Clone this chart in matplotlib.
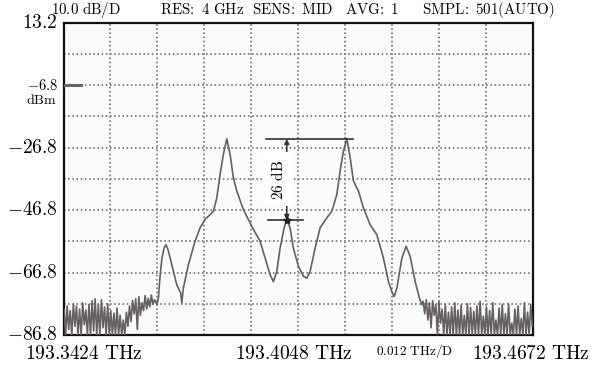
import numpy as np
import matplotlib
matplotlib.use("Agg")
import matplotlib.pyplot as plt

plt.rcParams["mathtext.fontset"] = "cm"
plt.rcParams["font.family"] = "serif"

# Display span of the analyser (THz) and level scale (dBm)
f_start, f_stop = 193.3424, 193.4672
f_center = 193.4048
ref_level = -6.8
y_top, y_bottom = 13.2, -86.8
y_labels = [13.2, -26.8, -46.8, -66.8, -86.8]

# Noise floor left of the signal band (dBm), swept samples
noise_left = [-78.5, -86.8, -77.5, -85.0, -79.0, -86.8, -76.9, -84.0, -77.5, -86.8,
              -78.5, -86.8, -76.5, -83.5, -78.8, -86.8, -77.0, -86.8, -75.8, -85.5,
              -75.2, -86.8, -77.0, -86.8, -75.5, -84.5, -77.8, -86.8, -76.8, -86.8,
              -79.0, -86.8, -79.8, -86.8, -78.2, -86.8, -80.5, -86.8, -82.0, -86.8,
              -79.5, -84.0, -77.5, -82.5, -75.8, -80.0, -75.2, -85.0, -74.5, -80.5,
              -76.5, -79.0, -74.2, -78.5, -75.0, -77.8, -74.0, -77.0, -75.5, -76.5]
noise_left_span = (193.34253, 193.36701)

# Signal band: frequency (THz) and level (dBm)
sig_freq = [193.36728, 193.36763, 193.36808, 193.36861, 193.36914, 193.36968,
            193.37021, 193.37119, 193.37252, 193.37359, 193.37385, 193.37428,
            193.37561, 193.37739, 193.37872, 193.38005, 193.38226, 193.38317,
            193.38405, 193.38492, 193.38583, 193.38671, 193.38758, 193.38849,
            193.39024, 193.39248, 193.39469, 193.39602, 193.39735, 193.39823,
            193.39913, 193.40001, 193.40108, 193.40179, 193.40267, 193.40355,
            193.40488, 193.40621, 193.40712, 193.40799, 193.40932, 193.41065,
            193.41244, 193.41377, 193.41510, 193.41598, 193.41686, 193.41776,
            193.41864, 193.41952, 193.42085, 193.42218, 193.42396, 193.42574,
            193.42750, 193.42883, 193.42973, 193.43035, 193.43107, 193.43240,
            193.43354, 193.43460, 193.43594, 193.43708, 193.43772]
sig_level = [-77.0, -75.0, -68.0, -62.0, -59.0, -57.9,
             -59.5, -64.3, -70.7, -73.4, -76.6, -71.8,
             -64.3, -56.8, -52.5, -49.8, -47.2, -42.9,
             -35.4, -29.0, -24.0, -29.0, -36.4, -40.7,
             -46.6, -52.0, -56.8, -62.2, -67.5, -69.7,
             -66.5, -59.0, -52.5, -50.0, -52.5, -59.0,
             -64.8, -68.0, -68.6, -66.5, -59.0, -52.5,
             -49.3, -47.2, -41.8, -34.3, -27.9, -24.0,
             -30.0, -37.5, -40.7, -46.1, -51.5, -54.7,
             -62.2, -69.7, -72.9, -74.5, -71.8, -62.2,
             -58.4, -61.6, -69.7, -75.0, -77.1]

# Noise floor right of the signal band (dBm)
noise_right = [-76.0, -80.0, -75.5, -82.0, -76.5, -84.5, -75.8, -80.5, -77.0, -86.8,
               -76.2, -83.0, -78.5, -86.8, -77.0, -86.8, -79.5, -86.8, -77.8, -86.8,
               -76.5, -86.8, -78.8, -86.8, -77.2, -86.8, -80.5, -86.8, -76.8, -86.8,
               -78.0, -86.8, -79.2, -86.8, -77.5, -86.8, -76.0, -86.8, -80.8, -86.8,
               -77.8, -86.8, -79.0, -86.8, -76.5, -86.8, -82.0, -86.8, -78.2, -86.8,
               -77.0, -86.8, -80.0, -86.8, -76.8, -86.8, -83.0, -86.8, -78.5, -86.8,
               -77.5, -86.8, -81.5, -86.8, -76.5, -86.8, -79.5, -86.8, -77.0, -84.0]
noise_right_span = (193.43806, 193.46710)

# Marker readout: side-lobe peak vs. central peak
marker_top = -24.0
marker_diff = 26.0
marker_bottom = marker_top - marker_diff
marker_freq = 193.40179
marker_top_span = (193.39630, 193.41944)
marker_bottom_span = (193.39682, 193.40613)

freq = np.concatenate([np.linspace(*noise_left_span, len(noise_left)),
                       np.array(sig_freq),
                       np.linspace(*noise_right_span, len(noise_right))])
level = np.concatenate([noise_left, sig_level, noise_right])

W, H = 598, 367
fig = plt.figure(figsize=(W / 100, H / 100), dpi=100)
ax = fig.add_axes([63.5 / W, 1 - 335 / H, 469.2 / W, 312.3 / H])
ax.set_facecolor("#fafbfd")

ax.set_xlim(f_start, f_stop)
ax.set_ylim(y_bottom, y_top)
ax.set_xticks(np.linspace(f_start, f_stop, 11))
ax.set_yticks(np.linspace(y_bottom, y_top, 11))
ax.tick_params(length=0, labelbottom=False, labelleft=False)
ax.grid(True, color="#8e7c7a", linestyle=(0, (0.8, 1.35)), linewidth=1.4)
for s in ax.spines.values():
    s.set_linewidth(1.6)
    s.set_color("#111111")

ax.plot(freq, level, color="#676060", linewidth=1.2, solid_joinstyle="round",
        clip_on=True, zorder=3)

# Reference-level indicator at the left edge
ax.plot([0.003, 0.038], [ref_level, ref_level], transform=ax.get_yaxis_transform(),
        color="#6a6464", linewidth=2.2, zorder=4, clip_on=False)

# 26 dB marker
ax.plot(marker_top_span, [marker_top] * 2, color="#333333", linewidth=1.2, zorder=5)
ax.plot(marker_bottom_span, [marker_bottom] * 2, color="#333333", linewidth=1.2, zorder=5)
ax.annotate("", xy=(marker_freq, marker_top), xytext=(marker_freq, marker_bottom),
            arrowprops=dict(arrowstyle="<|-|>", color="#333333", lw=1.1,
                            shrinkA=0, shrinkB=0, mutation_scale=7), zorder=5)
ax.plot([marker_freq], [marker_bottom], marker="*", color="#222222", markersize=6, zorder=6)
ax.text(193.39955, (marker_top + marker_bottom) / 2, r"$\mathrm{%d\ dB}$" % marker_diff,
        rotation=90, ha="center", va="center", fontsize=11, zorder=6,
        bbox=dict(boxstyle="square,pad=0.45", fc="white", ec="none"))

# Level labels
ytr = ax.get_yaxis_transform()
for v in y_labels:
    ax.text(-0.012, v, r"$%.1f$" % v, transform=ytr,
            ha="right", va="center", fontsize=14, clip_on=False)
ax.text(-0.012, ref_level, r"$%.1f$" % ref_level, transform=ytr, ha="right",
        va="center", fontsize=10.5, clip_on=False)
fig.text(41 / W, 1 - 100 / H, r"$\mathrm{dBm}$", ha="center", va="center", fontsize=10)

# Frequency labels
for x, f in [(84, f_start), (294, f_center), (531, f_stop)]:
    fig.text(x / W, 1 - 354 / H, r"$\mathrm{%.4f\ THz}$" % f, ha="center",
             va="center", fontsize=14)
fig.text(415 / W, 1 - 351 / H, r"$\mathrm{0.012\ THz/D}$", ha="center",
         va="center", fontsize=9.5)

# Header line of instrument settings
header = [(51, r"$\mathrm{10.0\ dB/D}$"), (160, r"$\mathrm{RES\!:\ 4\ GHz}$"),
          (252, r"$\mathrm{SENS\!:\ MID}$"), (345, r"$\mathrm{AVG\!:\ 1}$"),
          (422, r"$\mathrm{SMPL\!:\ 501(AUTO)}$")]
for x, t in header:
    fig.text(x / W, 1 - 10 / H, t, ha="left", va="center", fontsize=10.8)

fig.savefig("out.png", dpi=100, facecolor="white")
